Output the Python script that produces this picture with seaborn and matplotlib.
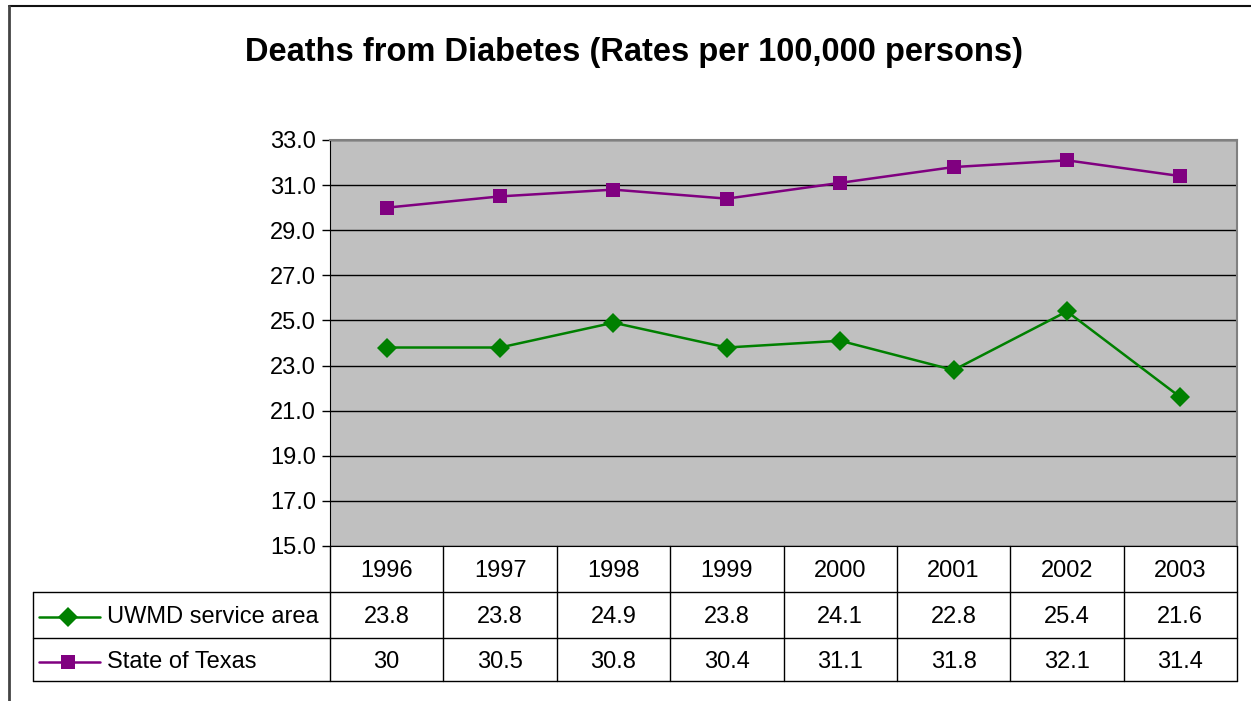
import pandas as pd
import matplotlib.pyplot as plt
import matplotlib.transforms as mtransforms
from matplotlib.lines import Line2D
import seaborn as sns

# Dados
years = ["1996", "1997", "1998", "1999", "2000", "2001", "2002", "2003"]
uwmd = [23.8, 23.8, 24.9, 23.8, 24.1, 22.8, 25.4, 21.6]
texas = [30, 30.5, 30.8, 30.4, 31.1, 31.8, 32.1, 31.4]
series_names = ["UWMD service area", "State of Texas"]
y_ticks = [15, 17, 19, 21, 23, 25, 27, 29, 31, 33]
title = "Deaths from Diabetes (Rates per 100,000 persons)"

colors = {"UWMD service area": "#008000", "State of Texas": "#800080"}
markers = {"UWMD service area": "D", "State of Texas": "s"}

df = pd.DataFrame({
    "pos": list(range(len(years))) * 2,
    "value": uwmd + texas,
    "series": [series_names[0]] * len(years) + [series_names[1]] * len(years),
})

sns.set_style("white")
plt.rcParams["font.family"] = ["Liberation Sans", "DejaVu Sans"]
plt.rcParams["text.color"] = "black"
plt.rcParams["ytick.color"] = "black"
plt.rcParams["ytick.labelcolor"] = "black"

W, H = 1251, 701
fig = plt.figure(figsize=(W / 100, H / 100), dpi=100)


def fx(x):
    return x / W


def fy(y):
    return 1 - y / H


FS = 17
left, right, top, bottom = 330, 1237, 140, 546
ax = fig.add_axes([fx(left), fy(bottom), fx(right - left), (bottom - top) / H])
ax.set_facecolor("#C0C0C0")

sns.lineplot(data=df, x="pos", y="value", hue="series", style="series",
             palette=colors, markers=markers, dashes=False, linewidth=1.8,
             markersize=10, markeredgewidth=0, legend=False, ax=ax, zorder=3)

ax.set_xlim(-0.5, len(years) - 0.5)
ax.set_ylim(15, 33)
ax.set_yticks(y_ticks)
ax.set_yticklabels([f"{t:.1f}" for t in y_ticks], fontsize=FS)
ax.set_xticks([])
ax.set_xlabel("")
ax.set_ylabel("")
ax.yaxis.grid(True, color="black", linewidth=1)
ax.tick_params(axis="y", direction="out", length=6, width=1, color="black",
               left=True, pad=4)
for s in ["top", "right"]:
    ax.spines[s].set_color("#808080")
    ax.spines[s].set_linewidth(1.5)
ax.spines["left"].set_color("black")
ax.spines["bottom"].set_color("black")

# Título
fig.text(fx(634), fy(53), title, ha="center", va="center",
         fontsize=23.5, fontweight="bold")

# Moldura externa do gráfico
fig.add_artist(Line2D([fx(9), fx(W + 5)], [fy(6), fy(6)],
                      color="#111111", linewidth=1.5, transform=fig.transFigure))
fig.add_artist(Line2D([fx(9), fx(9)], [fy(6), fy(H + 5)],
                      color="#444444", linewidth=2, transform=fig.transFigure))

# Tabela de dados
row_y = [546, 592, 638, 681]
trans = mtransforms.blended_transform_factory(ax.transData, fig.transFigure)
lw = 1

# linhas horizontais
for y in row_y[1:]:
    fig.add_artist(Line2D([fx(33), fx(right)], [fy(y), fy(y)], color="black",
                          linewidth=lw, transform=fig.transFigure))
# linhas verticais
fig.add_artist(Line2D([fx(33), fx(33)], [fy(row_y[1]), fy(row_y[3])],
                      color="black", linewidth=lw, transform=fig.transFigure))
for i in range(len(years) + 1):
    fig.add_artist(Line2D([i - 0.5, i - 0.5], [fy(row_y[0]), fy(row_y[3])],
                          color="black", linewidth=lw, transform=trans))

off = 2
for i, yr in enumerate(years):
    fig.text(i, fy((row_y[0] + row_y[1]) / 2 + off), yr, transform=trans,
             ha="center", va="center", fontsize=FS)
    fig.text(i, fy((row_y[1] + row_y[2]) / 2 + off), f"{uwmd[i]:g}", transform=trans,
             ha="center", va="center", fontsize=FS)
    fig.text(i, fy((row_y[2] + row_y[3]) / 2 + off), f"{texas[i]:g}", transform=trans,
             ha="center", va="center", fontsize=FS)

for k, name in enumerate(series_names):
    yc = fy((row_y[k + 1] + row_y[k + 2]) / 2 + off)
    fig.add_artist(Line2D([fx(39), fx(100)], [yc, yc], color=colors[name],
                          linewidth=1.8, transform=fig.transFigure))
    fig.add_artist(Line2D([fx(68)], [yc], color=colors[name], marker=markers[name],
                          markersize=10, markeredgewidth=0, linestyle="none",
                          transform=fig.transFigure))
    fig.text(fx(107), yc, name, ha="left", va="center", fontsize=FS)

fig.savefig("out.png", dpi=100)
